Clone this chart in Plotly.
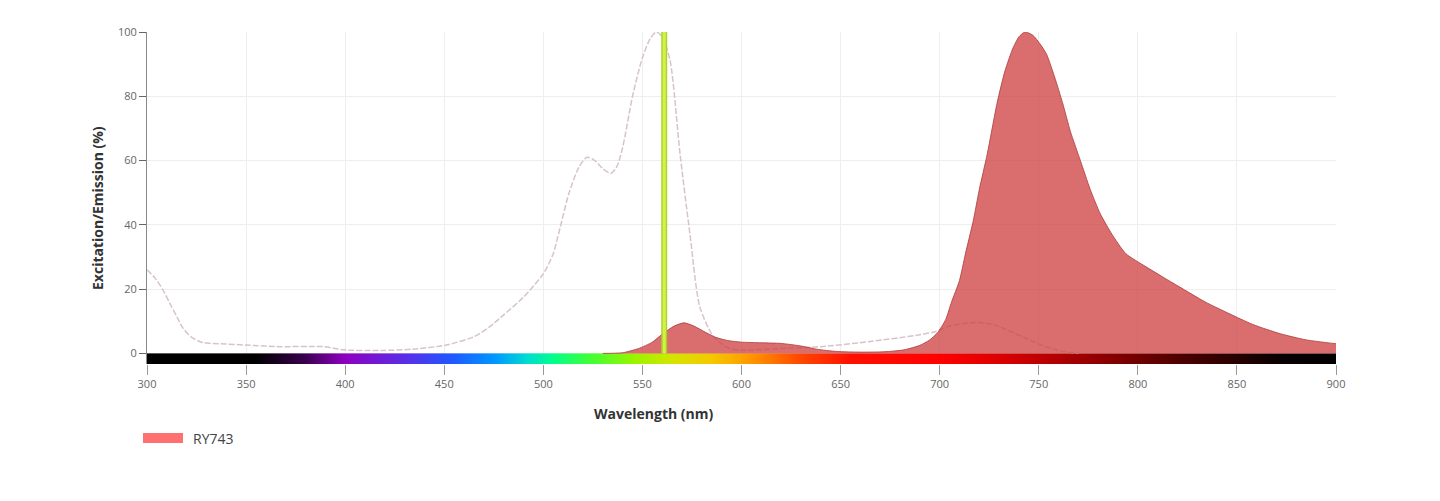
import numpy as np
import plotly.graph_objects as go

# ---------------- data ----------------
ex_nm = [300, 304, 308, 312, 315, 318, 322, 328, 340, 350, 367, 389, 399, 418, 434, 451, 465, 473,
         480, 490, 500, 505, 508, 513, 518, 522, 526, 530, 534, 537, 540, 545, 550, 554, 557, 560,
         564, 569, 574, 579, 586, 594, 600, 610, 620, 640, 665, 690, 698, 705, 712, 720, 728, 737,
         746, 754, 762, 770]
ex_val = [26, 23.5, 19.8, 15, 11.5, 8, 5.2, 3.4, 2.9, 2.6, 2.1, 2.1, 1.1, 0.9, 1.3, 2.6, 5.2, 8.3,
          12, 17.5, 24.8, 31, 38, 50, 58, 61, 60, 57.5, 56, 58, 64, 80, 92, 98, 100, 98.5,
          91, 62, 37, 14.4, 5.1, 1.5, 1, 1.2, 1.5, 2.1, 3.7, 5.8, 6.8, 8.5, 9.3, 9.6, 8.8, 6.5,
          4, 2, 0.6, 0.1]

em_nm = [530, 540, 548, 555, 560, 566, 571, 576, 582, 587, 593, 600, 610, 620, 630, 638, 648, 660,
         672, 682, 690, 695, 699, 703, 706, 710, 713, 717, 720, 724, 729, 733, 737, 740, 743, 747,
         751, 754, 758, 762, 766, 771, 776, 781, 787, 794, 804, 812, 821, 834, 846, 858, 872, 885, 900]
em_val = [0, 0.2, 1.5, 3.5, 6, 8.5, 9.5, 8.5, 6.5, 5, 4, 3.5, 3.3, 3.1, 2.3, 1.3, 0.6, 0.4,
          0.5, 1.1, 2.5, 4.2, 6.5, 10.5, 16, 22.7, 31, 41.4, 51, 62, 78, 88, 95, 98.5, 100, 99,
          96, 93, 86, 78, 69, 60, 51, 43.5, 37, 31, 27, 24, 20.7, 16, 12.4, 9, 6.1, 4.2, 3]

laser_nm = 561
dye_name = "RY743"

x_ticks = [300, 350, 400, 450, 500, 550, 600, 650, 700, 750, 800, 850, 900]
y_ticks = [0, 20, 40, 60, 80, 100]

# visible spectrum colour bar stops (wavelength -> colour)
spectrum_nm = [300, 355, 380, 400, 430, 455, 475, 492, 505, 522, 545, 565, 585, 605, 630, 655, 700,
               730, 770, 820, 870, 900]
spectrum_col = ["#000000", "#000000", "#3a0050", "#8e00c0", "#5a2de6", "#1e5aff", "#0096ff",
                "#00dcd2", "#00ff8c", "#3cff3c", "#96f500", "#d2e600", "#f5c800", "#ff9600",
                "#ff4600", "#ff1000", "#ff0000", "#dc0000", "#a00000", "#500000", "#0a0000", "#000000"]

# ---------------- figure ----------------
FONT = "Open Sans"
fig = go.Figure()

# spectrum bar below zero
lo, hi = spectrum_nm[0], spectrum_nm[-1]
cscale = [[(w - lo) / (hi - lo), c] for w, c in zip(spectrum_nm, spectrum_col)]
bar_edges = np.arange(lo, hi + 1, 1)
bar_mid = (bar_edges[:-1] + bar_edges[1:]) / 2
fig.add_trace(go.Heatmap(
    x=bar_edges, y=[-3.3, 0], z=[bar_mid],
    colorscale=cscale, zmin=lo, zmax=hi, showscale=False, hoverinfo="skip",
))

# excitation (dashed)
fig.add_trace(go.Scatter(
    x=ex_nm, y=ex_val, mode="lines",
    line=dict(color="rgba(214,192,198,0.95)", width=1.5, dash="6px,2px", shape="spline", smoothing=0.7),
    showlegend=False, hoverinfo="skip",
))

# emission (filled)
fig.add_trace(go.Scatter(
    x=em_nm, y=em_val, mode="lines", fill="tozeroy",
    fillcolor="rgba(208,68,68,0.78)",
    line=dict(color="rgba(175,65,65,0.85)", width=1, shape="spline", smoothing=0.6),
    showlegend=False, hoverinfo="skip",
))

# laser line
fig.add_trace(go.Scatter(
    x=[laser_nm, laser_nm], y=[0, 100], mode="lines",
    line=dict(color="rgba(165,210,40,0.95)", width=6), showlegend=False, hoverinfo="skip",
))
fig.add_trace(go.Scatter(
    x=[laser_nm, laser_nm], y=[0, 100], mode="lines",
    line=dict(color="rgba(212,242,70,1)", width=3), showlegend=False, hoverinfo="skip",
))

# page layout: body has an 8px margin
OFF = 8
W, H = 1440 - 2 * OFF, 501 - 2 * OFF
PX0, PX1, PY0, PY1 = 147, 1336, 32, 364   # plot area in page pixels
L = PX0 - OFF
T = PY0 - OFF
R = W - (PX1 - OFF)
B = H - (PY1 - OFF)
plot_w = PX1 - PX0
plot_h = PY1 - PY0


def px(x):
    return (x - PX0) / plot_w


def py(y):
    return (PY1 - y) / plot_h


fig.update_layout(
    width=W, height=H,
    margin=dict(l=L, r=R, t=T, b=B),
    paper_bgcolor="white", plot_bgcolor="white",
    showlegend=False,
    font=dict(family=FONT, color="#666666", size=11),
    xaxis=dict(
        range=[300, 900], tickvals=x_ticks, ticks="outside", ticklen=10, tickcolor="#999999",
        tickwidth=1, showgrid=True, gridcolor="#eeeeee", gridwidth=1, zeroline=False,
        showline=False, tickfont=dict(family=FONT, size=11, color="#666666"),
    ),
    yaxis=dict(
        range=[-3.3, 100], tickvals=y_ticks, ticks="outside", ticklen=7, tickcolor="#666666",
        tickwidth=1, showgrid=True, gridcolor="#eeeeee", gridwidth=1, zeroline=False,
        showline=True, linecolor="#888888", linewidth=1,
        tickfont=dict(family=FONT, size=11, color="#666666"),
    ),
)

# axis titles
fig.add_annotation(
    text="<b>Wavelength (nm)</b>", xref="paper", yref="paper",
    x=px(653), y=py(413), showarrow=False,
    font=dict(family=FONT, size=14, color="#333333"), xanchor="center", yanchor="middle",
)
fig.add_annotation(
    text="<b>Excitation/Emission (%)</b>", xref="paper", yref="paper",
    x=px(98), y=py(208), showarrow=False, textangle=-90,
    font=dict(family=FONT, size=14, color="#333333"), xanchor="center", yanchor="middle",
)

# legend (drawn manually)
fig.add_shape(
    type="rect", xref="paper", yref="paper",
    x0=px(143), x1=px(183), y0=py(443), y1=py(433),
    fillcolor="#ff7070", line=dict(width=0),
)
fig.add_annotation(
    text=dye_name, xref="paper", yref="paper",
    x=px(191), y=py(438), showarrow=False,
    font=dict(family=FONT, size=14, color="#444444"), xanchor="left", yanchor="middle",
)

fig.write_html("out.html")
